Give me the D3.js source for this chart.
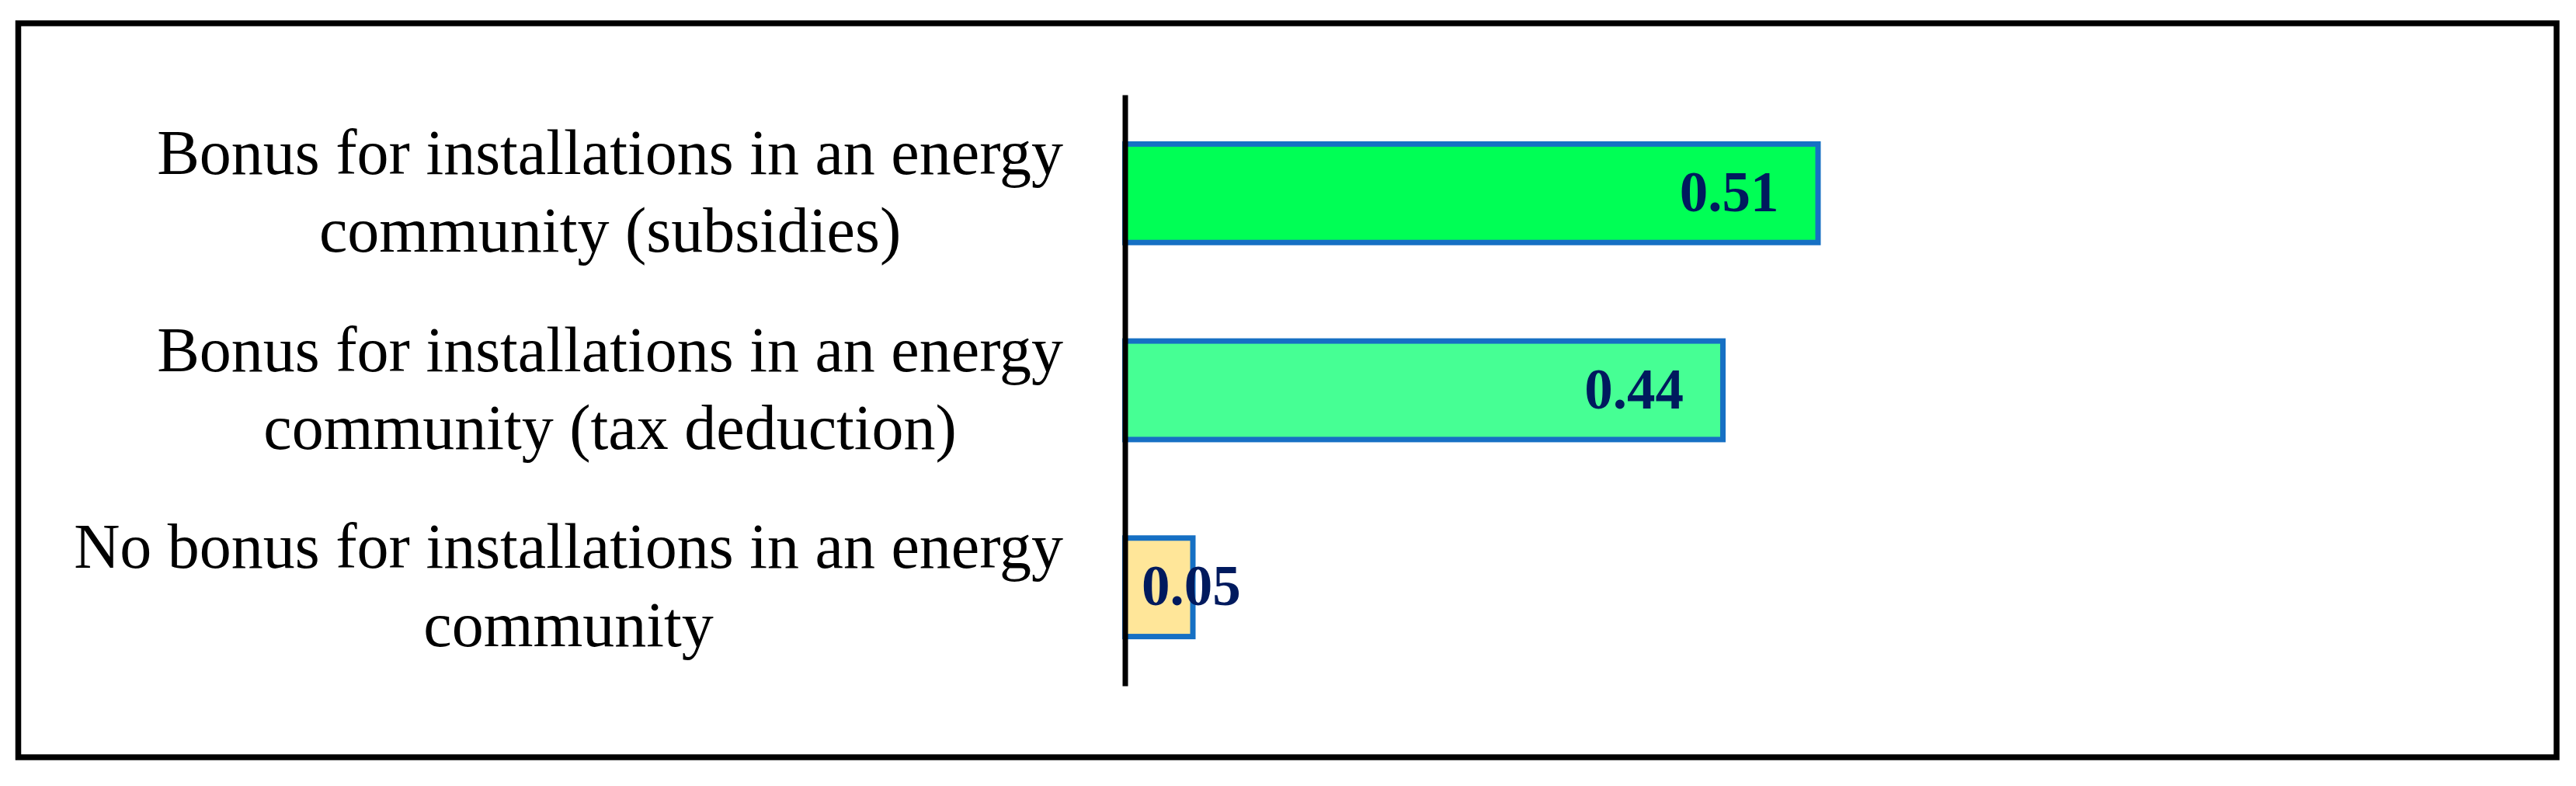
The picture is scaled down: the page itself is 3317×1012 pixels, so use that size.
<!DOCTYPE html>
<html>
<head>
<meta charset="utf-8">
<script src="https://cdn.jsdelivr.net/npm/d3@7"></script>
<style>
  html, body { margin: 0; padding: 0; background: #fff; }
  svg { display: block; }
</style>
</head>
<body>
<svg id="chart" width="3317" height="1012"></svg>
<script>
// ---- data ----
const categories = [
  ["Bonus for installations in an energy", "community (subsidies)"],
  ["Bonus for installations in an energy", "community (tax deduction)"],
  ["No bonus for installations in an energy", "community"]
];
const values = [0.51, 0.44, 0.05];
const valueLabels = ["0.51", "0.44", "0.05"];
const barColors = ["#00FF55", "#46FF94", "#FFE699"];

// ---- layout ----
const W = 3317, H = 1012;
const svg = d3.select("#chart");

svg.append("rect")
  .attr("x", 23.5).attr("y", 30)
  .attr("width", 3268.5).attr("height", 945)
  .attr("fill", "#fff").attr("stroke", "#000").attr("stroke-width", 7.5);

const x = d3.scaleLinear().domain([0, 0.6]).range([1448.5, 2498.5]);
const y = d3.scaleBand().domain(d3.range(categories.length))
  .range([122, 883]).paddingInner(0.5).paddingOuter(0.25);

// bars
svg.append("g").selectAll("rect").data(values).join("rect")
  .attr("x", x(0))
  .attr("y", (d, i) => y(i))
  .attr("width", d => x(d) - x(0))
  .attr("height", y.bandwidth())
  .attr("fill", (d, i) => barColors[i])
  .attr("stroke", "#1670C4")
  .attr("stroke-width", 7);

// axis line (category axis)
const axis = d3.axisLeft(y).tickSize(0).tickFormat("");
const axG = svg.append("g").attr("transform", `translate(${x(0)},0)`).call(axis);
axG.select(".domain").attr("stroke", "#000").attr("stroke-width", 7);

// category labels
const labelRight = 1369;
const lab = svg.append("g")
  .attr("font-family", "'Liberation Serif', 'Times New Roman', serif")
  .attr("font-size", 82).attr("fill", "#000");
categories.forEach((lines, i) => {
  const cy = y(i) + y.bandwidth() / 2;
  const g = lab.append("g");
  const texts = lines.map((ln, k) => g.append("text")
    .attr("y", cy - 25 + k * 100.5)
    .attr("text-anchor", "middle")
    .text(ln));
  const maxW = d3.max(texts, t => t.node().getComputedTextLength());
  texts.forEach(t => t.attr("x", labelRight - maxW / 2));
});

// value labels (inside end, clamped to start after base)
const vl = svg.append("g")
  .attr("font-family", "'Liberation Serif', 'Times New Roman', serif")
  .attr("font-weight", "bold").attr("font-size", 73).attr("fill", "#001A5E");
values.forEach((v, i) => {
  const cy = y(i) + y.bandwidth() / 2;
  const t = vl.append("text").attr("y", cy + 23).attr("text-anchor", "end").text(valueLabels[i]);
  const w = t.node().getComputedTextLength();
  const end = Math.max(x(v) + 3.5 - 54, x(0) + 21.5 + w);
  t.attr("x", end);
});
</script>
</body>
</html>
